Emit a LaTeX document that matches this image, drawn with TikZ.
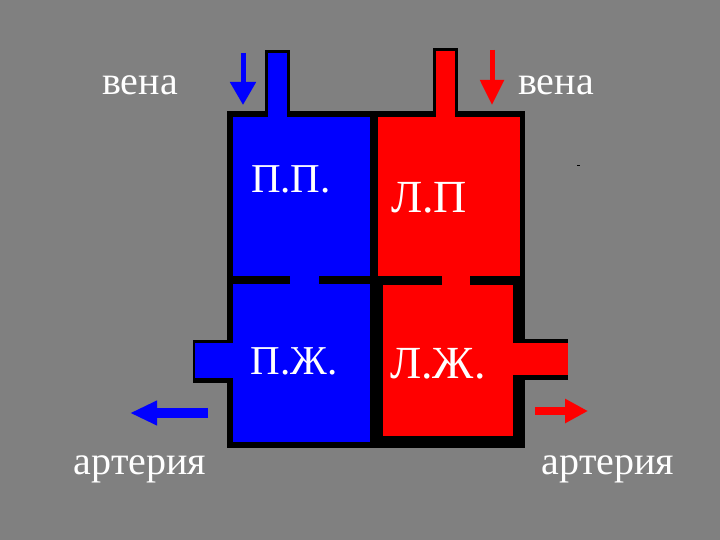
\documentclass[tikz,border=0pt]{standalone}
\usepackage{fontspec}
\setmainfont{Liberation Serif}
\usetikzlibrary{arrows.meta}
\definecolor{bg}{HTML}{808080}
\definecolor{vblue}{HTML}{0000FF}
\definecolor{vred}{HTML}{FF0000}
\begin{document}
\begin{tikzpicture}[x=1pt,y=-1pt,
  lbl/.style={text=white,font=\fontsize{40}{48}\selectfont,inner sep=0pt,anchor=base},
  pl/.style={lbl,font=\fontsize{41}{48}\selectfont},
  ll/.style={lbl,font=\fontsize{46}{52}\selectfont}]
\fill[bg] (0,0) rectangle (720,540);
\useasboundingbox (0,0) rectangle (720,540);
% black frame
\fill[black] (227,111) rectangle (525,448);
% vein pipes
\fill[black] (265,50) rectangle (290,111);
\fill[vblue] (268,53) rectangle (287,118);
\fill[black] (433,48) rectangle (458,111);
\fill[vred] (436,51) rectangle (455,118);
% artery pipes
\fill[black] (193,340) rectangle (228,383);
\fill[vblue] (195,343) rectangle (234,378);
\fill[black] (512,339) rectangle (568,380);
\fill[vred] (512,343) rectangle (568,375);
% chambers
\fill[vblue] (233,117) rectangle (370,276);
\fill[vred] (378,117) rectangle (520,276);
\fill[vblue] (233,284) rectangle (370,442);
\fill[vred] (383,285) rectangle (513,436);
% valves
\fill[vblue] (290,275) rectangle (319,285);
\fill[vred] (442,275) rectangle (470,286);
% arrows
\draw[vblue,line width=5pt,-{Triangle[length=23pt,width=25pt]}] (243,53) -- (243,105);
\draw[vred,line width=5pt,-{Triangle[length=25pt,width=23pt]}] (492,50) -- (492,105);
\draw[vblue,line width=10pt,-{Triangle[length=27pt,width=23pt]}] (208,413) -- (130,413);
\draw[vred,line width=8pt,-{Triangle[length=23pt,width=23pt]}] (535,411) -- (588,411);
% stray mark
\fill[black] (577,165) rectangle (580,166);
% labels
\node[lbl] (venaL) at (140,95) {вена};
\node[lbl] (venaR) at (556,95) {вена};
\node[lbl] (artL) at (140,474) {артерия};
\node[lbl] (artR) at (608,474) {артерия};
\node[pl] (PP) at (291,193) {П.П.};
\node[ll] (LP) at (429,212) {Л.П};
\node[pl] (PZh) at (294,374) {П.Ж.};
\node[ll] (LZh) at (438,378) {Л.Ж.};
\end{tikzpicture}
\end{document}
